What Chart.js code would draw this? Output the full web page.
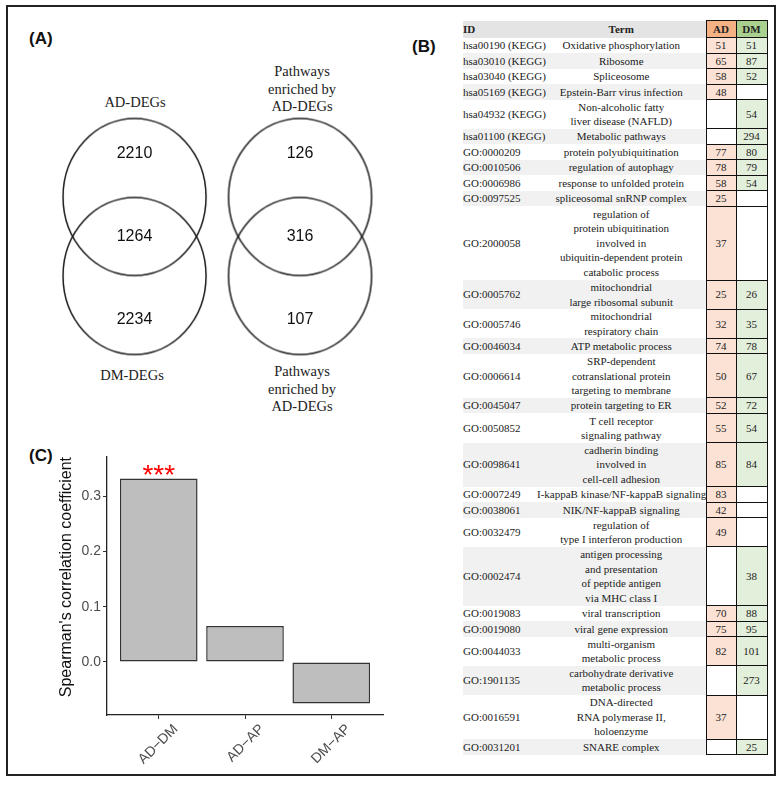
<!DOCTYPE html>
<html>
<head>
<meta charset="utf-8">
<script src="https://cdn.jsdelivr.net/npm/chart.js@4.4.0/dist/chart.umd.min.js"></script>
<style>
  html, body { margin: 0; padding: 0; background: #fff; }
  #page { position: relative; width: 784px; height: 785px; overflow: hidden; font-family: "Liberation Sans", Arial, sans-serif; }
  #frame { position: absolute; left: 6px; top: 5px; width: 770px; height: 771px; border: 2px solid #222; box-sizing: border-box; }
  .tag { position: absolute; font-weight: bold; font-size: 17px; line-height: 20px; color: #111; }
  .vlabel { position: absolute; width: 160px; text-align: center; font-family: "Liberation Serif", "Times New Roman", serif; font-size: 14.5px; line-height: 17.5px; color: #222; }
  canvas { position: absolute; }
  #tbl { position: absolute; left: 463px; top: 20px; width: 304px; border-collapse: collapse; table-layout: fixed; font-family: "Liberation Serif", "Times New Roman", serif; font-size: 11px; line-height: 14.5px; color: #222; }
  #tbl td { padding: 0; vertical-align: middle; overflow: visible; }
  #tbl td.id { text-align: left; white-space: nowrap; }
  #tbl td.term { text-align: center; white-space: nowrap; }
  #tbl td.num { text-align: center; border: 1px solid #111; }
  #tbl tr.head td { font-weight: bold; }
</style>
</head>
<body>
<div id="page">
  <div id="frame"></div>
  <div class="tag" style="left:29px; top:29px;">(A)</div>
  <div class="tag" style="left:412px; top:37px;">(B)</div>
  <div class="tag" style="left:29px; top:446px;">(C)</div>

  <div class="vlabel" style="left:55px; top:94px;">AD-DEGs</div>
  <div class="vlabel" style="left:52px; top:367px;">DM-DEGs</div>
  <div class="vlabel" style="left:222px; top:63px;">Pathways<br>enriched by<br>AD-DEGs</div>
  <div class="vlabel" style="left:222px; top:363px;">Pathways<br>enriched by<br>AD-DEGs</div>

  <canvas id="venn" width="360" height="360" style="left:40px; top:60px;"></canvas>
  <canvas id="bars" width="400" height="340" style="left:0px; top:440px;"></canvas>
  <table id="tbl"></table>
</div>

<script>
// ---- panel A: venn counts (upper only, shared, lower only)
const geneCounts = [2210, 1264, 2234];
const pathwayCounts = [126, 316, 107];

// ---- panel C: correlation bars
const pairs = ["AD\u2212DM", "AD\u2212AP", "DM\u2212AP"];
const rho = [0.332, 0.065, -0.075];
const stars = ["***", "", ""];
const yTicks = [0, 0.1, 0.2, 0.3];

// ---- panel B: table
const termIds = [
  "hsa00190 (KEGG)", "hsa03010 (KEGG)", "hsa03040 (KEGG)", "hsa05169 (KEGG)",
  "hsa04932 (KEGG)", "hsa01100 (KEGG)", "GO:0000209", "GO:0010506", "GO:0006986",
  "GO:0097525", "GO:2000058", "GO:0005762", "GO:0005746", "GO:0046034",
  "GO:0006614", "GO:0045047", "GO:0050852", "GO:0098641", "GO:0007249",
  "GO:0038061", "GO:0032479", "GO:0002474", "GO:0019083", "GO:0019080",
  "GO:0044033", "GO:1901135", "GO:0016591", "GO:0031201"
];
const termNames = [
  "Oxidative phosphorylation", "Ribosome", "Spliceosome", "Epstein-Barr virus infection",
  "Non-alcoholic fatty\nliver disease (NAFLD)", "Metabolic pathways",
  "protein polyubiquitination", "regulation of autophagy", "response to unfolded protein",
  "spliceosomal snRNP complex",
  "regulation of\nprotein ubiquitination\ninvolved in\nubiquitin-dependent protein\ncatabolic process",
  "mitochondrial\nlarge ribosomal subunit", "mitochondrial\nrespiratory chain",
  "ATP metabolic process",
  "SRP-dependent\ncotranslational protein\ntargeting to membrane",
  "protein targeting to ER", "T cell receptor\nsignaling pathway",
  "cadherin binding\ninvolved in\ncell-cell adhesion",
  "I-kappaB kinase/NF-kappaB signaling", "NIK/NF-kappaB signaling",
  "regulation of\ntype I interferon production",
  "antigen processing\nand presentation\nof peptide antigen\nvia MHC class I",
  "viral transcription", "viral gene expression",
  "multi-organism\nmetabolic process", "carbohydrate derivative\nmetabolic process",
  "DNA-directed\nRNA polymerase II,\nholoenzyme", "SNARE complex"
];
const adCounts = [51, 65, 58, 48, null, null, 77, 78, 58, 25, 37, 25, 32, 74, 50, 52, 55, 85, 83, 42, 49, null, 70, 75, 82, null, 37, null];
const dmCounts = [51, 87, 52, null, 54, 294, 80, 79, 54, null, null, 26, 35, 78, 67, 72, 54, 84, null, null, null, 38, 88, 95, 101, 273, null, 25];

/* =========================
   TABLE
========================= */
const tbl = document.getElementById("tbl");
const colW = [74, 169, 30, 31];
const cg = document.createElement("colgroup");
colW.forEach((w) => {
  const c = document.createElement("col");
  c.style.width = w + "px";
  cg.appendChild(c);
});
tbl.appendChild(cg);

function addRow(cells, h, cls) {
  const tr = document.createElement("tr");
  if (cls) tr.className = cls;
  tr.style.height = h + "px";
  cells.forEach((c) => {
    const td = document.createElement("td");
    td.className = c.cls;
    td.style.background = c.bg;
    td.innerHTML = c.text;
    tr.appendChild(td);
  });
  tbl.appendChild(tr);
}

addRow([
  { cls: "id", bg: "#e4e4e4", text: "ID" },
  { cls: "term", bg: "#e4e4e4", text: "Term" },
  { cls: "num", bg: "#f4b183", text: "AD" },
  { cls: "num", bg: "#a9d08e", text: "DM" },
], 17, "head");

termIds.forEach((id, i) => {
  const lines = termNames[i].split("\n");
  const bg = i % 2 === 1 ? "#f1f1f1" : "#ffffff";
  addRow([
    { cls: "id", bg: bg, text: id },
    { cls: "term", bg: bg, text: lines.join("<br>") },
    { cls: "num", bg: adCounts[i] != null ? "#fbe2d5" : "#ffffff", text: adCounts[i] != null ? adCounts[i] : "" },
    { cls: "num", bg: dmCounts[i] != null ? "#e2efda" : "#ffffff", text: dmCounts[i] != null ? dmCounts[i] : "" },
  ], lines.length * 15 - 0.9);
});

/* =========================
   VENN DIAGRAMS (A)
========================= */
const vennSets = [geneCounts, pathwayCounts];
const regionY = [1.05, 0, -1.05];

function ellipseStyle() {
  const c = document.createElement("canvas");
  c.width = 147;
  c.height = 161;
  const g = c.getContext("2d");
  g.strokeStyle = "#1a1a1a";
  g.lineWidth = 1.5;
  g.beginPath();
  g.ellipse(73.5, 80.5, 71.5, 78.5, 0, 0, Math.PI * 2);
  g.stroke();
  return c;
}
const ring = ellipseStyle();

const vennCountsPlugin = {
  id: "vennCounts",
  afterDatasetsDraw(chart) {
    const { ctx, scales } = chart;
    ctx.save();
    ctx.fillStyle = "#111";
    ctx.font = '16px "Liberation Sans", Arial, sans-serif';
    ctx.textAlign = "center";
    ctx.textBaseline = "middle";
    vennSets.forEach((counts, p) => {
      counts.forEach((n, r) => {
        ctx.fillText(String(n), scales.x.getPixelForValue(p), scales.y.getPixelForValue(regionY[r]));
      });
    });
    ctx.restore();
  },
};

const circlePts = [];
vennSets.forEach((_, p) => {
  circlePts.push({ x: p, y: 0.5 });
  circlePts.push({ x: p, y: -0.5 });
});

new Chart(document.getElementById("venn").getContext("2d"), {
  type: "scatter",
  data: {
    datasets: [{
      data: circlePts,
      pointStyle: ring,
      pointRadius: 75,
      pointHoverRadius: 75,
      clip: false,
    }],
  },
  options: {
    responsive: false,
    animation: false,
    events: [],
    layout: { padding: 0, autoPadding: false },
    plugins: { legend: { display: false }, tooltip: { enabled: false } },
    scales: {
      x: { display: false, min: -0.571, max: 1.604 },
      y: { display: false, min: -2.323, max: 2.234 },
    },
  },
  plugins: [vennCountsPlugin],
});

/* =========================
   BAR CHART (C)
========================= */
const starPlugin = {
  id: "stars",
  afterDatasetsDraw(chart) {
    const { ctx, scales } = chart;
    ctx.save();
    ctx.fillStyle = "#ff0000";
    ctx.font = '28px "Liberation Sans", Arial, sans-serif';
    ctx.textAlign = "center";
    ctx.textBaseline = "alphabetic";
    stars.forEach((s, i) => {
      if (!s) return;
      ctx.fillText(s, scales.x.getPixelForValue(i + 1), scales.y.getPixelForValue(rho[i]) + 5);
    });
    ctx.restore();
  },
};

const tickFont = { family: '"Liberation Sans", Arial, sans-serif', size: 14 };

new Chart(document.getElementById("bars").getContext("2d"), {
  type: "bar",
  data: {
    datasets: [{
      data: rho.map((v, i) => ({ x: i + 1, y: v })),
      backgroundColor: "#bebebe",
      borderColor: "#333333",
      borderWidth: 1.5,
      borderSkipped: false,
      barPercentage: 0.9,
      categoryPercentage: 1,
    }],
  },
  options: {
    responsive: false,
    animation: false,
    events: [],
    layout: { padding: { left: 0, top: 17, right: 17, bottom: 10 } },
    plugins: { legend: { display: false }, tooltip: { enabled: false } },
    scales: {
      x: {
        type: "linear",
        min: 0.4,
        max: 3.6,
        offset: false,
        afterBuildTicks: (s) => { s.ticks = [1, 2, 3].map((v) => ({ value: v })); },
        afterFit: (s) => { s.height = 55; },
        border: { display: true, color: "#222", width: 1.3 },
        grid: { display: true, drawOnChartArea: false, tickLength: 4, color: "#333", offset: false },
        ticks: {
          color: "#4d4d4d",
          font: tickFont,
          minRotation: 45,
          maxRotation: 45,
          padding: 2,
          labelOffset: 17,
          callback: (v) => pairs[v - 1],
        },
      },
      y: {
        min: -0.096,
        max: 0.371,
        afterBuildTicks: (s) => { s.ticks = yTicks.map((v) => ({ value: v })); },
        afterFit: (s) => { s.width = 107; },
        border: { display: true, color: "#222", width: 1.3 },
        grid: { display: true, drawOnChartArea: false, tickLength: 4, color: "#333" },
        ticks: {
          color: "#4d4d4d",
          font: tickFont,
          padding: 2,
          callback: (v) => v.toFixed(1),
        },
        title: {
          display: true,
          text: "Spearman's correlation coefficient",
          color: "#111",
          align: "end",
          font: { family: '"Liberation Sans", Arial, sans-serif', size: 16 },
          padding: { top: 57, bottom: 0 },
        },
      },
    },
  },
  plugins: [starPlugin],
});
</script>
</body>
</html>
